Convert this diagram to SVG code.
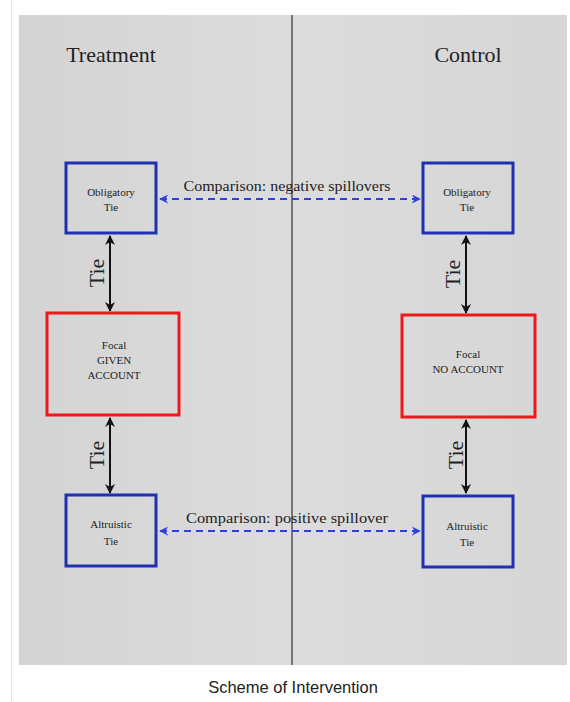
<svg xmlns="http://www.w3.org/2000/svg" width="570" height="702" viewBox="0 0 570 702">
<defs>
<style>
.serif{font-family:"Liberation Serif","DejaVu Serif",serif;fill:#222}
.lbl{font-size:11px;text-anchor:middle}
.head{font-size:22px;text-anchor:middle}
.cmp{font-size:15.5px;text-anchor:middle}
.tie{font-size:22px;text-anchor:middle}
.blue{fill:none;stroke:#1f30b0;stroke-width:3}
.red{fill:none;stroke:#f01818;stroke-width:3}
.tiearrow{stroke:#111;stroke-width:2;fill:none;marker-start:url(#ka);marker-end:url(#ka)}
.dash{stroke:#3040e0;stroke-width:2;stroke-dasharray:7 5;fill:none;marker-start:url(#ba);marker-end:url(#ba)}
</style>
<marker id="ka" viewBox="0 0 10 10" refX="9" refY="5" markerWidth="5" markerHeight="5" orient="auto-start-reverse" markerUnits="strokeWidth">
<path d="M0,0 L10,5 L0,10 L3,5 z" fill="#111"/>
</marker>
<marker id="ba" viewBox="0 0 10 10" refX="9" refY="5" markerWidth="4.5" markerHeight="4.5" orient="auto-start-reverse" markerUnits="strokeWidth">
<path d="M0,0 L10,5 L0,10 L3,5 z" fill="#3040e0"/>
</marker>
<linearGradient id="bg" x1="0" y1="0" x2="1" y2="0">
<stop offset="0" stop-color="#d4d4d4"/>
<stop offset="0.5" stop-color="#dcdcdc"/>
<stop offset="1" stop-color="#d6d6d6"/>
</linearGradient>
</defs>
<rect x="0" y="0" width="570" height="702" fill="#ffffff"/>
<line x1="11.5" y1="0" x2="11.5" y2="702" stroke="#e4e4e4" stroke-width="1"/>
<rect x="19" y="15" width="548" height="650" fill="url(#bg)"/>
<line x1="292" y1="15" x2="292" y2="665" stroke="#555" stroke-width="1.5"/>
<text class="serif head" x="111" y="62">Treatment</text>
<text class="serif head" x="468" y="62">Control</text>

<g id="connectors">
<line class="tiearrow" x1="110" y1="236" x2="110" y2="311"/>
<line class="tiearrow" x1="110" y1="418" x2="110" y2="493"/>
<line class="tiearrow" x1="466" y1="236" x2="466" y2="313"/>
<line class="tiearrow" x1="466" y1="420" x2="466" y2="493"/>
<text class="serif tie" transform="translate(104,273) rotate(-90)">Tie</text>
<text class="serif tie" transform="translate(104,455) rotate(-90)">Tie</text>
<text class="serif tie" transform="translate(460,274) rotate(-90)">Tie</text>
<text class="serif tie" transform="translate(463,455) rotate(-90)">Tie</text>
<line class="dash" x1="160" y1="199" x2="420" y2="199"/>
<line class="dash" x1="160" y1="531" x2="420" y2="531"/>
<text class="serif cmp" x="287" y="191" textLength="207" lengthAdjust="spacingAndGlyphs">Comparison: negative spillovers</text>
<text class="serif cmp" x="287" y="523" textLength="202" lengthAdjust="spacingAndGlyphs">Comparison: positive spillover</text>
</g>

<g id="t_oblig">
<rect class="blue" x="66" y="163" width="90" height="70"/>
<text class="serif lbl" x="111" y="196">Obligatory</text>
<text class="serif lbl" x="111" y="211">Tie</text>
</g>
<g id="c_oblig">
<rect class="blue" x="423" y="163" width="90" height="70"/>
<text class="serif lbl" x="467" y="196">Obligatory</text>
<text class="serif lbl" x="467" y="211">Tie</text>
</g>
<g id="t_focal">
<rect class="red" x="47" y="313" width="132" height="102"/>
<text class="serif lbl" x="114" y="349">Focal</text>
<text class="serif lbl" x="114" y="364">GIVEN</text>
<text class="serif lbl" x="114" y="379">ACCOUNT</text>
</g>
<g id="c_focal">
<rect class="red" x="402" y="315" width="133" height="102"/>
<text class="serif lbl" x="468" y="358">Focal</text>
<text class="serif lbl" x="468" y="373">NO ACCOUNT</text>
</g>
<g id="t_altru">
<rect class="blue" x="66" y="495" width="90" height="71"/>
<text class="serif lbl" x="111" y="528">Altruistic</text>
<text class="serif lbl" x="111" y="545">Tie</text>
</g>
<g id="c_altru">
<rect class="blue" x="423" y="496" width="90" height="71"/>
<text class="serif lbl" x="467" y="530">Altruistic</text>
<text class="serif lbl" x="467" y="546">Tie</text>
</g>
<text x="293" y="693" font-family="Liberation Sans, Arial, sans-serif" font-size="16.5" text-anchor="middle" fill="#222">Scheme of Intervention</text>
</svg>
